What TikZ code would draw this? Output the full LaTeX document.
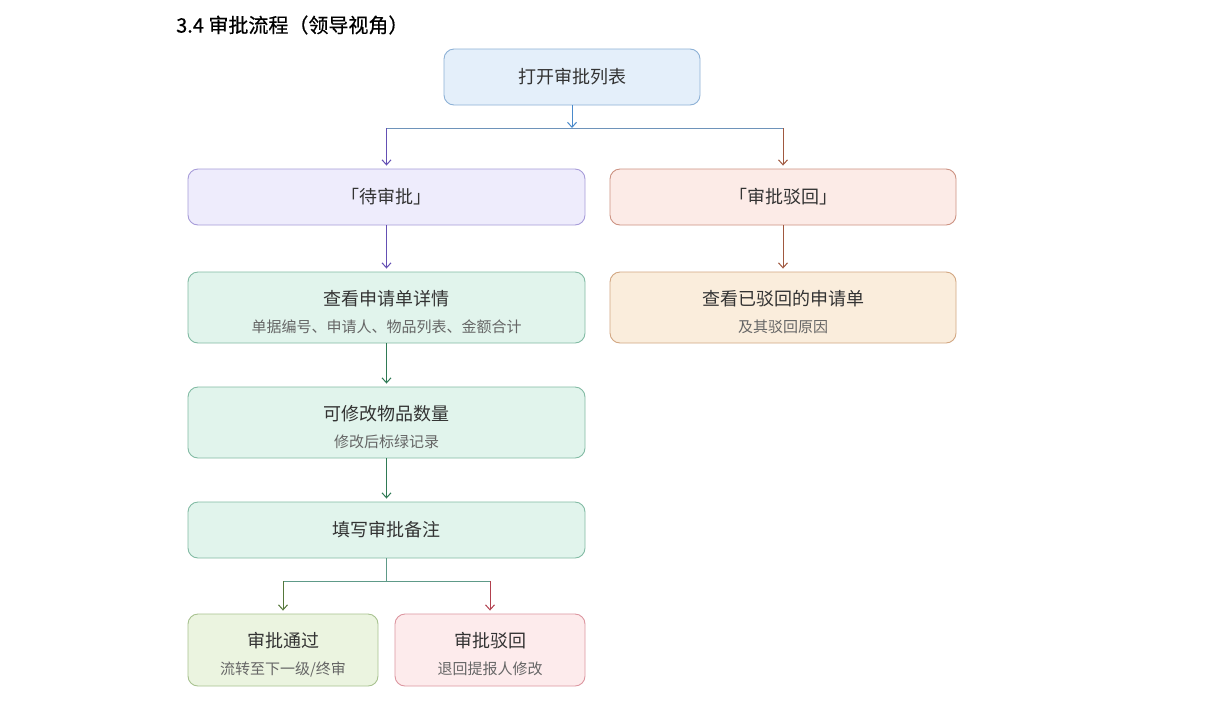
\documentclass[tikz,border=0pt]{standalone}
\usepackage{fontspec}
\setmainfont{Noto Sans CJK SC}
\newfontfamily\titlefont[FakeBold=0.5]{Noto Sans CJK SC}
\usetikzlibrary{arrows.meta}
\definecolor{maintxt}{HTML}{333333}
\definecolor{subtxt}{HTML}{666666}
\definecolor{blueFill}{HTML}{E4EFFA}
\definecolor{blueDraw}{HTML}{8DB1D6}
\definecolor{blueArr}{HTML}{4A8ACB}
\definecolor{blueLine}{HTML}{6E93BA}
\definecolor{purFill}{HTML}{EEECFC}
\definecolor{purDraw}{HTML}{A79CD9}
\definecolor{purArr}{HTML}{6450B4}
\definecolor{rtFill}{HTML}{FCEBE7}
\definecolor{rtDraw}{HTML}{CC9282}
\definecolor{rtArr}{HTML}{A0583F}
\definecolor{grFill}{HTML}{E1F4EC}
\definecolor{grDraw}{HTML}{82BBA4}
\definecolor{grArr}{HTML}{2F7A55}
\definecolor{grLine}{HTML}{5E9A88}
\definecolor{orFill}{HTML}{FAEDDC}
\definecolor{orDraw}{HTML}{D2A782}
\definecolor{psFill}{HTML}{EBF4E0}
\definecolor{psDraw}{HTML}{A8C290}
\definecolor{psArr}{HTML}{55773A}
\definecolor{rjFill}{HTML}{FDEBEC}
\definecolor{rjDraw}{HTML}{DC96A0}
\definecolor{rjArr}{HTML}{B2404E}
\tikzset{
  box/.style={rectangle, rounded corners=10pt, line width=0.9pt, inner sep=0pt,
    align=center, text=maintxt, font=\fontsize{18}{22}\selectfont},
  conn/.style={line width=1pt},
  arr/.style={line width=1pt, -{Straight Barb[length=5pt,width=9pt,line width=1pt]}},
}
\newcommand{\two}[2]{\rule{0pt}{24pt}#1\\[5pt]{\fontsize{15}{18}\selectfont\color{subtxt}#2}}
\begin{document}
\begin{tikzpicture}[x=1pt,y=-1pt]
\useasboundingbox (0,0) rectangle (1214,702);
\fill[white] (0,0) rectangle (1214,702);
\node[anchor=west, inner sep=0pt, font=\fontsize{20}{24}\titlefont, text=black] (title) at (176,25) {3.4 审批流程（领导视角）};

\node[box, fill=blueFill, draw=blueDraw, minimum width=256pt, minimum height=56pt] (open) at (572,77) {打开审批列表};
\node[box, fill=purFill, draw=purDraw, minimum width=397pt, minimum height=56pt] (pending) at (386.5,197) {「待审批」};
\node[box, fill=rtFill, draw=rtDraw, minimum width=346pt, minimum height=56pt] (rejtab) at (783,197) {「审批驳回」};
\node[box, fill=grFill, draw=grDraw, minimum width=397pt, minimum height=71pt] (detail) at (386.5,307.5) {\two{查看申请单详情}{单据编号、申请人、物品列表、金额合计}};
\node[box, fill=orFill, draw=orDraw, minimum width=346pt, minimum height=71pt] (rejview) at (783,307.5) {\two{查看已驳回的申请单}{及其驳回原因}};
\node[box, fill=grFill, draw=grDraw, minimum width=397pt, minimum height=71pt] (modify) at (386.5,422.5) {\two{可修改物品数量}{修改后标绿记录}};
\node[box, fill=grFill, draw=grDraw, minimum width=397pt, minimum height=56pt] (remark) at (386.5,530) {填写审批备注};
\node[box, fill=psFill, draw=psDraw, minimum width=190pt, minimum height=72pt] (pass) at (283,650) {\two{审批通过}{流转至下一级/终审}};
\node[box, fill=rjFill, draw=rjDraw, minimum width=190pt, minimum height=72pt] (reject) at (490,650) {\two{审批驳回}{退回提报人修改}};

\coordinate (j1) at (572,128);
\coordinate (j1l) at (386.5,128);
\coordinate (j1r) at (783,128);
\coordinate (j2) at (386.5,581);
\coordinate (j2l) at (283,581);
\coordinate (j2r) at (490,581);

\draw[conn, blueLine] (j1l) -- (j1r);
\draw[arr, blueArr] (open.south) -- (j1);
\draw[arr, purArr, shorten >=3pt] (j1l) -- (pending.north);
\draw[arr, rtArr, shorten >=3pt] (j1r) -- (rejtab.north);
\draw[arr, purArr, shorten >=3pt] (pending) -- (detail);
\draw[arr, rtArr, shorten >=3pt] (rejtab) -- (rejview);
\draw[arr, grArr, shorten >=3pt] (detail) -- (modify);
\draw[arr, grArr, shorten >=3pt] (modify) -- (remark);
\draw[conn, grLine] (remark.south) -- (j2);
\draw[conn, grLine] (j2l) -- (j2r);
\draw[arr, psArr, shorten >=3pt] (j2l) -- (pass.north);
\draw[arr, rjArr, shorten >=3pt] (j2r) -- (reject.north);
\end{tikzpicture}
\end{document}
